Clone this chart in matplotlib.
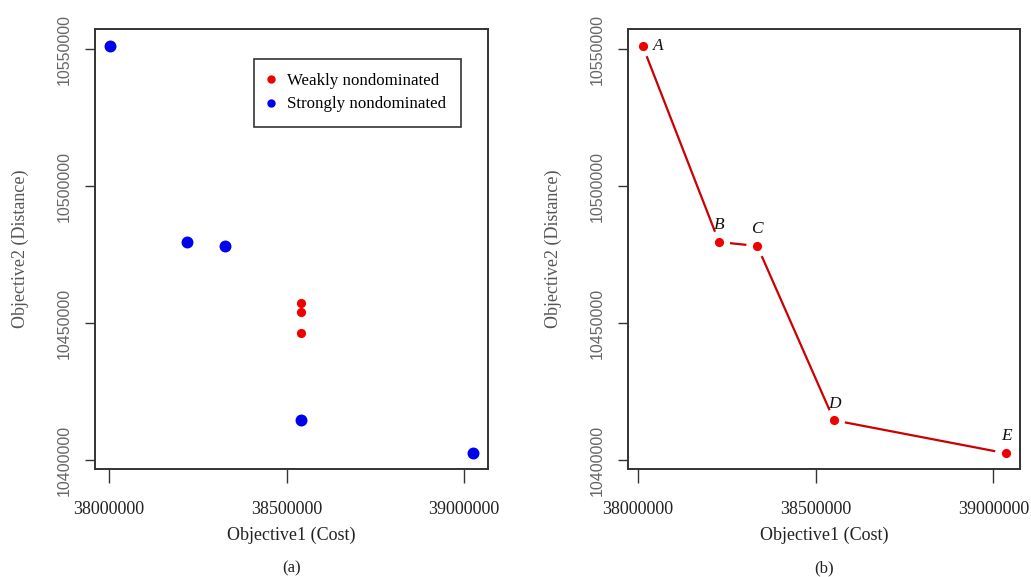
import matplotlib
matplotlib.use("Agg")
import matplotlib.pyplot as plt
import numpy as np
from matplotlib.lines import Line2D

# ---- data (panel a) ----
weak_x = [38540800, 38540800, 38540800]
weak_y = [10457400, 10454000, 10446200]
strong_x = [38002800, 38219700, 38325900, 38540800, 39025400]
strong_y = [10551100, 10479560, 10478100, 10414500, 10402450]

# ---- data (panel b) ----
front_labels = ["A", "B", "C", "D", "E"]
front_x = [38014000, 38228600, 38336300, 38552000, 39035700]
front_y = [10551100, 10479560, 10478100, 10414500, 10402450]

xticks = [38000000, 38500000, 39000000]
yticks = [10400000, 10450000, 10500000, 10550000]

W, H = 1031, 577
fig = plt.figure(figsize=(W / 100, H / 100), dpi=100)

SERIF = "Liberation Serif"
SANS = "Liberation Sans"
RED = "#f00000"
BLUE = "#0000f0"
LINE_RED = "#cc0000"
BOX = "#333333"


def px_axes(x0, x1, y0, y1):
    return fig.add_axes([x0 / W, (H - y1) / H, (x1 - x0) / W, (y1 - y0) / H])


def style(ax, xlim, ylim, cap):
    ax.set_xlim(*xlim)
    ax.set_ylim(*ylim)
    ax.set_xticks(xticks)
    ax.set_yticks(yticks)
    ax.set_xticklabels([str(v) for v in xticks], fontfamily=SERIF,
                       fontsize=13, color="#222222")
    ax.set_yticklabels([str(v) for v in yticks], fontfamily=SANS,
                       fontsize=11.5, color="#666666", rotation=90,
                       va="center")
    ax.tick_params(axis="x", direction="out", length=10, width=1,
                   color=BOX, pad=13)
    ax.tick_params(axis="y", direction="out", length=7.5, width=1,
                   color=BOX, pad=9)
    for s in ax.spines.values():
        s.set_color(BOX)
        s.set_linewidth(1.4)
    ax.text(0.5, -0.15, "Objective1 (Cost)", transform=ax.transAxes,
            ha="center", va="center", fontfamily=SERIF, fontsize=13,
            color="#222222")
    ax.text(-0.19, 0.5, "Objective2 (Distance)", transform=ax.transAxes,
            ha="center", va="center", rotation=90, fontfamily=SERIF,
            fontsize=13, color="#555555")
    ax.text(0.5, -0.225, cap, transform=ax.transAxes, ha="center",
            va="center", fontfamily=SERIF, fontsize=12, color="#222222")


# ---- panel (a) ----
ax1 = px_axes(95, 488, 29, 469)
style(ax1, (37960560, 39067600), (10396720, 10557300), "(a)")
ax1.scatter(strong_x, strong_y, s=(8.6) ** 2, color=BLUE, zorder=3,
            linewidths=0)
ax1.scatter(weak_x, weak_y, s=(6.6) ** 2, color=RED, zorder=3,
            linewidths=0)
handles = [
    Line2D([], [], marker="o", ls="none", color=RED, markersize=5),
    Line2D([], [], marker="o", ls="none", color=BLUE, markersize=5),
]
leg = ax1.legend(handles, ["Weakly nondominated", "Strongly nondominated"],
                 loc="upper left", bbox_to_anchor=(0.405, 0.932),
                 borderaxespad=0, fancybox=False, framealpha=1,
                 edgecolor=BOX, handletextpad=0.8, handlelength=0.3,
                 labelspacing=0.42, borderpad=0.85,
                 prop={"family": SERIF, "size": 12.2})
leg.get_frame().set_linewidth(1.2)

# ---- panel (b) ----
ax2 = px_axes(628, 1020, 29, 469)
style(ax2, (37972700, 39075000), (10396720, 10557300), "(b)")

gap = 11.0  # pixels
pts = ax2.transData.transform(np.column_stack([front_x, front_y]))
for i in range(len(pts) - 1):
    p0, p1 = pts[i], pts[i + 1]
    d = p1 - p0
    L = np.hypot(*d)
    u = d / L
    q0 = p0 + u * gap
    q1 = p1 - u * gap
    seg = ax2.transData.inverted().transform(np.vstack([q0, q1]))
    ax2.plot(seg[:, 0], seg[:, 1], color=LINE_RED, lw=1.6, zorder=2,
             solid_capstyle="butt")
ax2.scatter(front_x, front_y, s=(6.6) ** 2, color=RED, zorder=3,
            linewidths=0)

offsets = {"A": (11, 0), "B": (0, 12), "C": (0, 12), "D": (0, 12),
           "E": (0, 12.5)}
for lab, x, y in zip(front_labels, front_x, front_y):
    ax2.annotate(lab, (x, y), xytext=offsets[lab], textcoords="offset points",
                 ha="center", va="center", fontfamily=SERIF,
                 fontstyle="italic", fontsize=12.5, color="#111111")

fig.savefig("out.png", dpi=100)
